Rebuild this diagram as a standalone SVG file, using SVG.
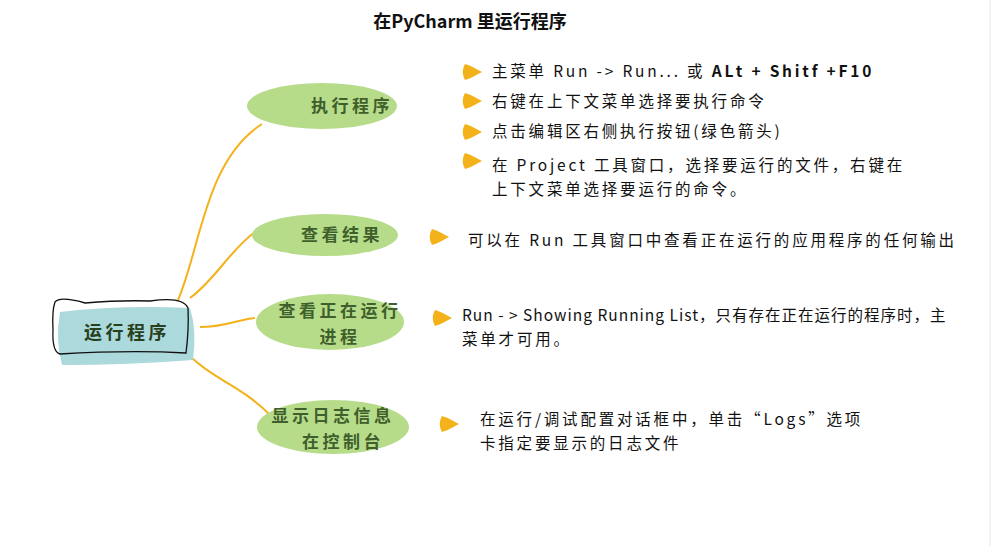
<svg xmlns="http://www.w3.org/2000/svg" width="1001" height="546" viewBox="0 0 1001 546">
<style>
text{font-family:"Noto Sans CJK SC","Noto Sans",sans-serif}
.t{font-size:18px;font-weight:bold;fill:#111}
.b{font-size:17px;font-weight:bold;fill:#3f5f2c;text-anchor:middle;letter-spacing:3.5px}
.i{font-size:15.5px;fill:#111;letter-spacing:2.8px}
.br{fill:#b6dc8a}
.c{fill:none;stroke:#f3b21a;stroke-width:2}
.bu{fill:#f3b21a}
</style>
<defs><path id="bul" d="M0,-8 C7,-6 13,-2 17,0 C13,2 7,6 0,8 C-3,3 -3,-3 0,-8Z"/></defs>
<rect width="1001" height="546" fill="#fff"/>
<line x1="990" y1="0" x2="990" y2="546" stroke="#e6e6e6"/>
<text class="t" x="470" y="28" text-anchor="middle">在PyCharm 里运行程序</text>
<g id="connectors">
<path class="c" d="M178,300 C200,250 205,160 262,124"/>
<path class="c" d="M190,298 C215,280 230,250 255,232"/>
<path class="c" d="M200,327 C225,327 235,320 255,318"/>
<path class="c" d="M192,358 C215,380 240,385 270,415"/>
</g>
<g id="root">
<path d="M60,312 Q120,305 190,308 Q197,330 193,360 Q130,365 62,365 Q55,340 60,312Z" fill="#acd9dc"/>
<path d="M55,302 Q60,296 85,303 Q120,300 150,301 Q183,296 188,308 Q189,330 186,353 Q130,350 60,354 Q52,352 53,330 Q52,310 55,302Z" fill="none" stroke="#111" stroke-width="1.3"/>
<text class="b" x="127" y="339" style="fill:#28401c;font-size:18px">运行程序</text>
</g>
<g id="n1"><ellipse class="br" cx="322" cy="106" rx="75" ry="23"/><text class="b" x="352" y="112">执行程序</text></g>
<g id="n2"><ellipse class="br" cx="325" cy="235" rx="73" ry="21"/><text class="b" x="342" y="241">查看结果</text></g>
<g id="n3"><ellipse class="br" cx="330" cy="322" rx="74" ry="28"/><text class="b" x="340" y="317">查看正在运行</text><text class="b" x="340" y="343">进程</text></g>
<g id="n4"><ellipse class="br" cx="333" cy="427" rx="76" ry="27"/><text class="b" x="333" y="422">显示日志信息</text><text class="b" x="343" y="448">在控制台</text></g>
<g id="items">
<use href="#bul" class="bu" x="465" y="72"/>
<text class="i" x="492" y="77">主菜单 Run -&gt; Run... 或 <tspan font-weight="bold">ALt + Shitf +F10</tspan></text>
<use href="#bul" class="bu" x="465" y="101"/>
<text class="i" x="492" y="107">右键在上下文菜单选择要执行命令</text>
<use href="#bul" class="bu" x="465" y="132"/>
<text class="i" x="492" y="137">点击编辑区右侧执行按钮(绿色箭头)</text>
<use href="#bul" class="bu" x="465" y="161"/>
<text class="i" x="492" y="171">在 Project 工具窗口，选择要运行的文件，右键在</text>
<text class="i" x="492" y="195">上下文菜单选择要运行的命令。</text>
<use href="#bul" class="bu" x="432" y="237"/>
<text class="i" x="468" y="246">可以在 Run 工具窗口中查看正在运行的应用程序的任何输出</text>
<use href="#bul" class="bu" x="435" y="318"/>
<text class="i" x="462" y="321" style="letter-spacing:1px">Run - &gt; Showing Running List，只有存在正在运行的程序时，主</text>
<text class="i" x="462" y="345">菜单才可用。</text>
<use href="#bul" class="bu" x="442" y="424"/>
<text class="i" x="480" y="425">在运行/调试配置对话框中，单击“Logs”选项</text>
<text class="i" x="480" y="449">卡指定要显示的日志文件</text>
</g>
</svg>
